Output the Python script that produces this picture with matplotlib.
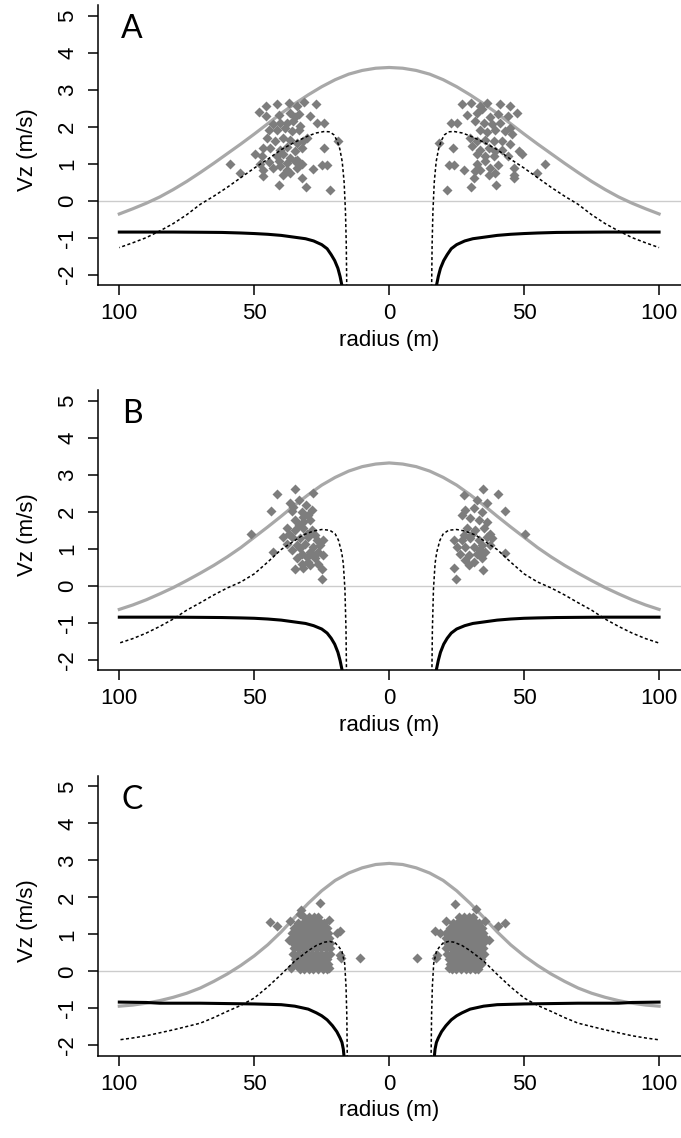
import numpy as np
import matplotlib
matplotlib.use("Agg")
from matplotlib import pyplot as plt

plt.rcParams["font.family"] = ["Liberation Sans", "DejaVu Sans"]

# Profiles, sampled from the centre outwards (|radius| in m, Vz in m/s)
r_gray = [0, 5, 10, 15, 20, 25, 30, 35, 40, 45, 50, 55, 60, 65, 70, 75, 80, 85, 90, 95, 100]
gray_a = [3.60, 3.58, 3.52, 3.42, 3.27, 3.08, 2.86, 2.62, 2.36, 2.08, 1.80, 1.53, 1.27, 1.01, 0.76, 0.52, 0.30, 0.10, -0.07, -0.22, -0.36]
gray_b = [3.32, 3.29, 3.22, 3.10, 2.93, 2.72, 2.46, 2.18, 1.88, 1.59, 1.31, 1.03, 0.78, 0.55, 0.34, 0.14, -0.05, -0.22, -0.38, -0.52, -0.64]
gray_c = [2.92, 2.89, 2.80, 2.66, 2.46, 2.18, 1.84, 1.46, 1.07, 0.72, 0.42, 0.16, -0.07, -0.27, -0.45, -0.59, -0.70, -0.79, -0.86, -0.91, -0.94]

r_dot_a = [15.7, 15.9, 16.2, 16.7, 17.4, 18.3, 19.3, 20.5, 22, 24, 27, 30, 35, 40, 45, 50, 55, 60, 65, 70, 75, 80, 85, 90, 95, 100]
dot_a = [-2.5, -1.2, -0.3, 0.5, 1.05, 1.40, 1.62, 1.78, 1.86, 1.87, 1.83, 1.75, 1.58, 1.38, 1.12, 0.88, 0.62, 0.36, 0.12, -0.10, -0.38, -0.62, -0.82, -1.00, -1.14, -1.27]
r_dot_b = [15.8, 16.0, 16.4, 17.0, 17.6, 18.8, 20, 22, 25, 28, 32, 35, 40, 45, 50, 55, 60, 65, 70, 75, 80, 85, 90, 95, 100]
dot_b = [-2.5, -1.2, -0.1, 0.6, 0.9, 1.23, 1.40, 1.50, 1.52, 1.48, 1.37, 1.22, 0.98, 0.64, 0.32, 0.10, -0.06, -0.25, -0.46, -0.66, -0.90, -1.10, -1.28, -1.43, -1.55]
r_dot_c = [15.5, 15.7, 16.0, 16.5, 17.5, 18.5, 20, 22, 24, 27, 30, 35, 40, 45, 50, 55, 60, 65, 70, 75, 80, 85, 90, 95, 100]
dot_c = [-2.5, -1.2, -0.4, 0.22, 0.54, 0.65, 0.77, 0.81, 0.79, 0.70, 0.56, 0.28, -0.08, -0.42, -0.72, -0.92, -1.08, -1.25, -1.40, -1.49, -1.58, -1.66, -1.74, -1.80, -1.85]

r_sol_a = [17.0, 17.5, 18.2, 19, 20.2, 21.5, 23, 25, 28, 31, 34, 37, 40, 45, 50, 55, 62, 70, 80, 90, 100]
sol_a = [-2.6, -2.3, -2.05, -1.83, -1.62, -1.46, -1.30, -1.19, -1.09, -1.03, -1.00, -0.97, -0.94, -0.91, -0.89, -0.875, -0.86, -0.855, -0.85, -0.85, -0.85]
r_sol_b = [16.8, 17.4, 18.2, 19, 20.2, 21.5, 23, 25, 28, 31, 34, 37, 40, 45, 50, 55, 62, 70, 80, 90, 100]
sol_b = [-2.6, -2.3, -2.02, -1.80, -1.58, -1.42, -1.28, -1.17, -1.08, -1.02, -0.99, -0.96, -0.93, -0.90, -0.88, -0.87, -0.86, -0.855, -0.85, -0.85, -0.85]
r_sol_c = [16.6, 17.0, 17.5, 18.2, 19.4, 21, 23, 25, 27, 30, 35, 40, 50, 60, 70, 80, 85, 90, 100]
sol_c = [-2.4, -2.1, -1.92, -1.80, -1.63, -1.47, -1.31, -1.20, -1.12, -1.02, -0.94, -0.90, -0.88, -0.87, -0.86, -0.86, -0.86, -0.84, -0.83]

# Observations (radius, Vz)
pts_a_left = [
    (-48.4, 2.39), (-45.6, 2.56), (-41.4, 2.60), (-37.3, 2.65), (-34.2, 2.56), (-31.5, 2.66), (-27.3, 2.60),
    (-45.6, 2.28), (-41.0, 2.31), (-36.7, 2.38), (-34.9, 2.26), (-33.6, 2.35), (-29.5, 2.28), (-26.8, 2.09),
    (-24.1, 2.09), (-42.9, 2.08), (-40.4, 2.10), (-37.9, 2.10), (-35.5, 2.15), (-44.7, 1.92), (-41.7, 1.92),
    (-38.6, 1.97), (-36.1, 1.88), (-33.6, 1.92), (-33.0, 2.01), (-45.4, 1.70), (-42.3, 1.61), (-39.2, 1.70),
    (-36.7, 1.65), (-34.2, 1.56), (-31.8, 1.61), (-30.5, 1.70), (-18.8, 1.61), (-46.6, 1.43), (-44.1, 1.41),
    (-40.4, 1.38), (-37.9, 1.44), (-34.9, 1.34), (-32.4, 1.43), (-49.7, 1.25), (-47.2, 1.20), (-41.7, 1.20),
    (-39.2, 1.25), (-36.7, 1.16), (-34.2, 1.11), (-24.3, 1.43), (-58.9, 1.00), (-47.8, 0.98), (-44.7, 1.05),
    (-41.0, 1.07), (-37.9, 1.02), (-34.9, 1.07), (-32.4, 1.00), (-25.0, 0.97), (-23.1, 0.97), (-55.2, 0.75),
    (-46.6, 0.84), (-42.9, 0.89), (-40.4, 0.93), (-37.9, 0.84), (-34.2, 0.87), (-28.1, 0.86), (-46.6, 0.66),
    (-39.2, 0.70), (-36.7, 0.75), (-32.4, 0.61), (-41.0, 0.42), (-30.8, 0.37), (-21.9, 0.28),
]
pts_a_right = [
    (26.9, 2.60), (30.4, 2.64), (33.7, 2.56), (36.2, 2.65), (40.9, 2.60), (44.6, 2.56), (47.3, 2.38),
    (28.8, 2.31), (32.5, 2.38), (34.4, 2.47), (37.4, 2.25), (40.5, 2.35), (44.2, 2.28), (22.9, 2.09),
    (25.3, 2.09), (31.9, 2.15), (35.0, 2.10), (38.1, 2.06), (41.2, 2.10), (44.9, 1.97), (33.7, 1.92),
    (36.2, 1.86), (39.3, 1.92), (43.0, 1.88), (45.5, 1.79), (30.0, 1.70), (32.5, 1.61), (35.6, 1.65),
    (38.7, 1.61), (41.8, 1.61), (44.9, 1.52), (18.3, 1.56), (23.8, 1.43), (30.6, 1.47), (33.7, 1.38),
    (36.8, 1.43), (39.3, 1.34), (41.8, 1.38), (48.0, 1.34), (32.5, 1.25), (35.6, 1.20), (38.7, 1.20),
    (44.2, 1.20), (49.2, 1.25), (22.0, 0.96), (24.1, 0.96), (27.6, 0.84), (32.5, 0.99), (35.6, 1.07),
    (37.4, 0.88), (40.5, 0.97), (46.1, 0.88), (57.8, 0.99), (31.9, 0.79), (33.7, 0.84), (39.3, 0.75),
    (46.1, 0.70), (54.8, 0.75), (31.3, 0.60), (36.8, 0.70), (46.1, 0.61), (21.6, 0.28), (30.3, 0.37),
    (39.7, 0.41),
]
pts_b_left = [
    (-41.4, 2.47), (-34.9, 2.61), (-28.1, 2.50), (-43.8, 2.03), (-36.7, 2.23), (-33.6, 2.32), (-30.8, 2.18),
    (-28.7, 2.05), (-36.1, 2.03), (-32.4, 2.00), (-29.9, 1.91), (-34.9, 1.77), (-31.8, 1.73), (-29.3, 1.77),
    (-51.3, 1.41), (-38.0, 1.55), (-34.9, 1.50), (-31.8, 1.55), (-28.7, 1.50), (-39.2, 1.32), (-36.1, 1.32),
    (-33.0, 1.28), (-29.9, 1.32), (-26.8, 1.23), (-24.4, 1.23), (-38.0, 1.14), (-34.2, 1.10), (-31.1, 1.14),
    (-28.1, 1.05), (-25.6, 1.10), (-42.9, 0.92), (-36.1, 0.96), (-32.4, 0.87), (-29.3, 0.92), (-26.2, 0.92),
    (-34.2, 0.74), (-30.5, 0.78), (-27.4, 0.74), (-24.4, 0.83), (-32.4, 0.60), (-29.3, 0.56), (-26.2, 0.60),
    (-34.9, 0.44), (-25.0, 0.46), (-25.0, 0.19), (-35.5, 2.14), (-31.8, 1.86), (-33.6, 1.64), (-30.5, 1.41),
    (-37.3, 1.41), (-27.4, 1.37), (-33.0, 1.01), (-29.9, 0.65), (-28.1, 0.83), (-31.8, 0.47),
]
pts_b_right = [
    (34.6, 2.62), (40.3, 2.47), (27.6, 2.45), (32.5, 2.32), (36.2, 2.24), (42.8, 2.03), (28.2, 2.05),
    (31.3, 2.09), (34.4, 2.00), (30.0, 1.82), (33.1, 1.78), (36.2, 1.73), (28.8, 1.55), (31.9, 1.50),
    (35.0, 1.55), (37.5, 1.41), (50.4, 1.41), (23.9, 1.23), (27.0, 1.23), (30.0, 1.28), (33.1, 1.23),
    (36.2, 1.32), (38.1, 1.28), (25.1, 1.05), (28.2, 1.05), (31.3, 1.05), (34.4, 1.10), (37.5, 1.10),
    (26.3, 0.87), (29.4, 0.83), (32.5, 0.87), (35.6, 0.92), (43.0, 0.89), (28.2, 0.69), (31.3, 0.65),
    (34.4, 0.74), (29.4, 0.56), (23.9, 0.48), (34.6, 0.42), (24.7, 0.18), (27.6, 1.37), (30.6, 1.41),
    (33.7, 0.96), (27.0, 1.91),
]
pts_c_left = [
    (-31.5, 1.47), (-29.8, 1.47), (-28.0, 1.47), (-26.5, 1.47),
    (-33.8, 1.32), (-32.1, 1.32), (-30.4, 1.32), (-28.7, 1.32), (-27.0, 1.32), (-25.3, 1.32), (-24.0, 1.32),
    (-35.2, 1.18), (-33.5, 1.18), (-31.8, 1.18), (-30.0, 1.18), (-28.3, 1.18), (-26.6, 1.18), (-24.9, 1.18), (-23.2, 1.18),
    (-35.9, 1.04), (-34.2, 1.04), (-32.5, 1.04), (-30.8, 1.04), (-29.1, 1.04), (-27.4, 1.04), (-25.7, 1.04), (-24.0, 1.04), (-22.6, 1.04),
    (-36.1, 0.90), (-34.4, 0.90), (-32.7, 0.90), (-31.0, 0.90), (-29.3, 0.90), (-27.6, 0.90), (-25.9, 0.90), (-24.2, 0.90), (-22.4, 0.90),
    (-35.6, 0.76), (-33.9, 0.76), (-32.2, 0.76), (-30.5, 0.76), (-28.8, 0.76), (-27.1, 0.76), (-25.4, 0.76), (-23.7, 0.76), (-22.1, 0.76),
    (-35.3, 0.62), (-33.6, 0.62), (-31.9, 0.62), (-30.2, 0.62), (-28.5, 0.62), (-26.8, 0.62), (-25.1, 0.62), (-23.4, 0.62), (-22.0, 0.62),
    (-35.5, 0.48), (-33.8, 0.48), (-32.1, 0.48), (-30.4, 0.48), (-28.7, 0.48), (-27.0, 0.48), (-25.3, 0.48), (-23.6, 0.48), (-22.0, 0.48),
    (-35.0, 0.34), (-33.3, 0.34), (-31.6, 0.34), (-29.9, 0.34), (-28.2, 0.34), (-26.5, 0.34), (-24.8, 0.34), (-23.1, 0.34),
    (-34.4, 0.20), (-32.7, 0.20), (-31.0, 0.20), (-29.3, 0.20), (-27.6, 0.20), (-25.9, 0.20), (-24.2, 0.20), (-22.8, 0.20),
    (-33.2, 0.07), (-31.5, 0.07), (-29.8, 0.07), (-28.1, 0.07), (-26.4, 0.07), (-24.7, 0.07), (-23.2, 0.07),
    (-44.1, 1.33), (-41.4, 1.22), (-36.6, 1.37), (-32.8, 1.66), (-33.2, 1.55), (-25.6, 1.84), (-22.2, 1.38),
    (-37.3, 0.86), (-19.4, 1.05), (-18.2, 1.08), (-18.1, 0.44), (-17.8, 0.36), (-10.8, 0.36), (-36.4, 0.09),
    (-22.3, 0.08),
]
pts_c_right = [
    (26.0, 1.47), (27.7, 1.47), (29.4, 1.47), (31.0, 1.47),
    (23.6, 1.32), (25.3, 1.32), (27.0, 1.32), (28.7, 1.32), (30.4, 1.32), (32.1, 1.32), (33.2, 1.32),
    (22.4, 1.18), (24.1, 1.18), (25.8, 1.18), (27.5, 1.18), (29.2, 1.18), (30.9, 1.18), (32.6, 1.18), (34.3, 1.18),
    (21.2, 1.04), (22.9, 1.04), (24.6, 1.04), (26.3, 1.04), (28.0, 1.04), (29.7, 1.04), (31.4, 1.04), (33.1, 1.04), (34.8, 1.04),
    (21.0, 0.90), (22.7, 0.90), (24.4, 0.90), (26.1, 0.90), (27.8, 0.90), (29.5, 0.90), (31.2, 0.90), (32.9, 0.90), (34.6, 0.90), (35.6, 0.90),
    (21.3, 0.76), (23.0, 0.76), (24.7, 0.76), (26.4, 0.76), (28.1, 0.76), (29.8, 0.76), (31.5, 0.76), (33.2, 0.76), (34.9, 0.76),
    (21.1, 0.62), (22.8, 0.62), (24.5, 0.62), (26.2, 0.62), (27.9, 0.62), (29.6, 0.62), (31.3, 0.62), (33.0, 0.62), (34.7, 0.62),
    (21.6, 0.48), (23.3, 0.48), (25.0, 0.48), (26.7, 0.48), (28.4, 0.48), (30.1, 0.48), (31.8, 0.48), (33.5, 0.48), (35.0, 0.48),
    (22.0, 0.34), (23.7, 0.34), (25.4, 0.34), (27.1, 0.34), (28.8, 0.34), (30.5, 0.34), (32.2, 0.34), (33.9, 0.34),
    (22.6, 0.20), (24.3, 0.20), (26.0, 0.20), (27.7, 0.20), (29.4, 0.20), (31.1, 0.20), (32.8, 0.20), (34.2, 0.20),
    (23.2, 0.07), (24.9, 0.07), (26.6, 0.07), (28.3, 0.07), (30.0, 0.07), (31.7, 0.07), (33.0, 0.07),
    (24.5, 1.83), (32.3, 1.68), (21.2, 1.37), (35.6, 1.37), (40.5, 1.24), (42.8, 1.31), (17.1, 1.08),
    (18.9, 1.04), (36.8, 0.84), (17.7, 0.45), (17.4, 0.36), (10.3, 0.36), (22.0, 0.09), (31.3, 0.09),
]

x_ticks = [-100, -50, 0, 50, 100]
x_tick_labels = ["100", "50", "0", "50", "100"]
y_ticks = [-2, -1, 0, 1, 2, 3, 4, 5]

GRAY_LINE = "#a8a8a8"
GRAY_PTS = "#7d7d7d"

fig = plt.figure(figsize=(6.81, 11.38), dpi=100)


def panel(bottom, letter, gray, r_dot, dot, r_sol, sol, pts_l, pts_r):
    ax = fig.add_axes([0.1435, bottom, 0.856, 0.2457])
    ax.axhline(0, color="#cccccc", lw=1.0, zorder=1)

    r = np.asarray(r_gray, dtype=float)
    g = np.asarray(gray, dtype=float)
    ax.plot(np.concatenate([-r[::-1], r]), np.concatenate([g[::-1], g]),
            color=GRAY_LINE, lw=2.3, zorder=2)

    for pts in (pts_l, pts_r):
        p = np.asarray(pts)
        ax.plot(p[:, 0], p[:, 1], "D", ms=4.6, color=GRAY_PTS, mec="none", zorder=3)

    rs = np.asarray(r_sol, dtype=float)
    rd = np.asarray(r_dot, dtype=float)
    for side in (-1, 1):
        ax.plot(side * rs, sol, color="black", lw=2.2, zorder=4)
        ax.plot(side * rd, dot, color="black", lw=1.1, ls=(0, (2.0, 1.6)), zorder=5)

    ax.set_xlim(-108, 108)
    ax.set_ylim(-2.28, 5.28)
    ax.spines["top"].set_visible(False)
    ax.spines["right"].set_visible(False)
    for s in ("left", "bottom"):
        ax.spines[s].set_linewidth(1.1)
    ax.set_xticks(x_ticks)
    ax.set_xticklabels(x_tick_labels)
    ax.set_yticks(y_ticks)
    ax.set_yticklabels([str(v) for v in y_ticks], rotation=90, va="center")
    ax.tick_params(axis="both", direction="out", length=7, width=1.1, labelsize=16)
    ax.tick_params(axis="x", pad=6)
    ax.tick_params(axis="y", pad=7)

    ax.text(-0.121, 0.483, "Vz (m/s)", transform=ax.transAxes, rotation=90,
            ha="center", va="center", fontsize=16)
    ax.text(0.5, -0.197, "radius (m)", transform=ax.transAxes,
            ha="center", va="center", fontsize=16)
    ax.text(-95.3, 4.64, letter, ha="center", va="center", fontsize=23,
            family=["Lato", "DejaVu Sans"])
    return ax


panel(0.7496, "A", gray_a, r_dot_a, dot_a, r_sol_a, sol_a, pts_a_left, pts_a_right)
panel(0.4112, "B", gray_b, r_dot_b, dot_b, r_sol_b, sol_b, pts_b_left, pts_b_right)
panel(0.0723, "C", gray_c, r_dot_c, dot_c, r_sol_c, sol_c, pts_c_left, pts_c_right)

fig.savefig("out.png", dpi=100)
